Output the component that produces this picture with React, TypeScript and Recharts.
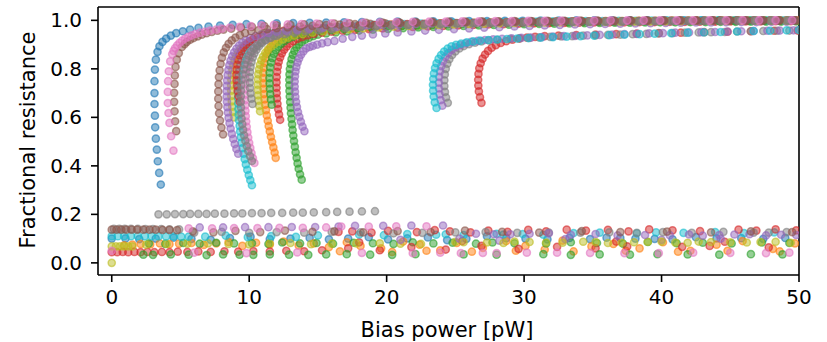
import React from 'react';
import {ScatterChart, Scatter, XAxis, YAxis, ReferenceLine, Label} from 'recharts';

// tick values
const xTicks = [0, 10, 20, 30, 40, 50];
const yTicks = [0, 0.2, 0.4, 0.6, 0.8, 1.0];

// tab10
const BLUE = '#1f77b4', ORANGE = '#ff7f0e', GREEN = '#2ca02c', RED = '#d62728', PURPLE = '#9467bd';
const BROWN = '#8c564b', PINK = '#e377c2', GRAY = '#7f7f7f', OLIVE = '#bcbd22', CYAN = '#17becf';

// ---- transition (upper) branches, [bias power, fractional R] ----
const blueUpper = [[3.57,.323],[3.45,.371],[3.35,.419],[3.28,.467],[3.21,.512],[3.16,.559],[3.14,.607],[3.11,.655],[3.11,.7],[3.11,.749],[3.14,.797],[3.21,.838],[3.33,.87],[3.47,.893],[3.69,.911],[3.96,.925],[4.3,.937],[4.69,.947],[5.17,.955],[5.7,.962],[6.31,.969],[7.04,.974],[7.88,.978],
  [8.8,.981],[9.8,.984],[10.9,.986],[12,.988],[13.2,.989],[14.4,.99],[15.6,.991],[16.9,.992],[18.2,.993],[19.5,.994],[20.8,.995],[22.1,.995],[23.4,.996],[24.7,.996],[26,.997],[27.3,.997],[28.6,.998],[29.9,.998],[31.2,.999],[32.5,.999],[33.8,1],[35.1,1],[36.4,1],[37.7,1],[39,1],[40.3,1],[41.6,1],[42.9,1],[44.2,1],[45.5,1],[46.8,1],[48.1,1],[49.4,1]];
const orangeUpper = [[11.93,.433],[11.85,.455],[11.76,.476],[11.67,.498],[11.58,.52],[11.5,.542],[11.42,.564],[11.35,.586],[11.28,.608],[11.22,.63],[11.16,.652],[11.11,.674],[11.07,.696],[11.04,.718],[11.02,.74],[11.01,.762],[11.02,.784],[11.05,.805],[11.1,.825],[11.18,.844],[11.28,.861],[11.4,.876],[11.55,.89],[11.72,.903],[11.92,.914],[12.15,.924],[12.42,.932],[12.72,.94],[13.1,.946],
  [13.7,.951],[14.5,.956],[15.4,.96],[16.4,.964],[17.5,.968],[18.7,.971],[19.9,.974],[21.1,.977],[22.3,.979],[23.5,.981],[24.7,.983],[25.9,.985],[27.1,.986],[28.3,.988],[29.5,.989],[30.7,.99],[31.9,.991],[33.1,.992],[34.3,.993],[35.5,.994],[36.7,.994],[37.9,.995],[39.1,.996],[40.3,.996],[41.5,.997],[42.7,.997],[43.9,.998],[45.1,.998],[46.3,.998],[47.5,.999],[48.7,.999],[49.9,.999]];
const greenUpper = [[13.82,.343],[13.7,.365],[13.6,.388],[13.52,.41],[13.45,.433],[13.38,.456],[13.32,.479],[13.26,.502],[13.21,.525],[13.16,.548],[13.12,.571],[13.08,.594],[13.04,.617],[13.01,.64],[12.98,.663],[12.95,.686],[12.93,.709],[12.92,.732],[12.92,.755],[12.93,.777],[12.96,.799],[13.01,.82],[13.08,.84],[13.17,.858],[13.29,.874],[13.44,.888],[13.62,.9],[13.83,.911],[14.07,.92],[14.35,.928],[14.66,.935],[15,.941],
  [15.6,.946],[16.3,.95],[17.1,.954],[18,.958],[19,.962],[20.1,.965],[21.2,.968],[22.3,.971],[23.4,.973],[24.5,.975],[25.6,.977],[26.7,.979],[27.8,.981],[28.9,.982],[30,.984],[31.1,.985],[32.2,.986],[33.3,.987],[34.4,.988],[35.5,.989],[36.6,.99],[37.7,.99],[38.8,.991],[39.9,.992],[41,.992],[42.1,.993],[43.2,.993],[44.3,.994],[45.4,.994],[46.5,.995],[47.6,.995],[48.7,.995],[49.8,.996]];
const redUpper = [[12.25,.59],[12.17,.612],[12.11,.634],[12.06,.656],[12.02,.678],[12,.7],[11.99,.722],[11.99,.744],[12,.766],[12.03,.788],[12.08,.809],[12.15,.829],[12.25,.847],[12.38,.864],[12.54,.879],[12.73,.892],[12.95,.904],[13.2,.914],[13.5,.923],[13.85,.931],[14.25,.938],[14.7,.944],
  [15.3,.949],[16,.953],[16.8,.957],[17.7,.961],[18.7,.964],[19.7,.967],[20.8,.97],[21.9,.973],[23,.975],[24.1,.977],[25.2,.979],[26.3,.981],[27.4,.983],[28.5,.984],[29.6,.986],[30.7,.987],[31.8,.988],[32.9,.989],[34,.99],[35.1,.991],[36.2,.991],[37.3,.992],[38.4,.993],[39.5,.993],[40.6,.994],[41.7,.994],[42.8,.995],[43.9,.995],[45,.996],[46.1,.996],[47.2,.996],[48.3,.997],[49.4,.997]];
const oliveUpper = [[8.9,.6],[8.83,.622],[8.77,.644],[8.73,.666],[8.7,.688],[8.69,.71],[8.69,.732],[8.7,.754],[8.73,.776],[8.77,.797],[8.84,.817],[8.93,.836],[9.05,.853],[9.2,.869],[9.38,.883],[9.6,.896],[9.85,.907],[10.15,.917],[10.5,.926],[10.9,.934],[11.4,.942],
  [12,.948],[12.8,.954],[13.7,.959],[14.7,.964],[15.8,.968],[16.9,.972],[18,.975],[19.2,.978],[20.4,.981],[21.6,.983],[22.8,.985],[24,.987],[25.2,.988],[26.4,.99],[27.6,.991],[28.8,.992],[30,.993],[31.2,.994],[32.4,.995],[33.6,.996],[34.8,.996],[36,.997],[37.2,.997],[38.4,.998],[39.6,.998],[40.8,.999],[42,.999],[43.2,.999],[44.4,1],[45.6,1],[46.8,1],[48,1],[49.2,1]];
const cyanUpper = [[10.2,.32],[10.08,.341],[9.97,.362],[9.86,.384],[9.76,.406],[9.67,.428],[9.59,.45],[9.52,.473],[9.45,.496],[9.39,.519],[9.34,.542],[9.3,.565],[9.26,.588],[9.23,.611],[9.21,.634],[9.2,.657],[9.19,.68],[9.19,.703],[9.2,.726],[9.22,.749],[9.25,.771],[9.3,.793],[9.37,.814],[9.46,.834],[9.58,.852],[9.73,.869],[9.91,.884],[10.12,.898],[10.37,.91],[10.65,.921],[10.97,.931],[11.35,.94],[11.8,.948],
  [12.4,.954],[13.1,.959],[13.9,.964],[14.8,.968],[15.8,.972],[16.8,.975],[17.9,.978],[19,.981],[20.1,.983],[21.3,.985],[22.5,.987],[23.7,.988],[24.9,.99],[26.1,.991],[27.3,.992],[28.5,.993],[29.7,.994],[30.9,.995],[32.1,.996],[33.3,.996],[34.5,.997],[35.7,.997],[36.9,.998],[38.1,.998],[39.3,.999],[40.5,.999],[41.7,.999],[42.9,1],[44.1,1],[45.3,1],[46.5,1],[47.7,1],[48.9,1]];
const green2Upper = [[11.64,.652],[11.58,.674],[11.53,.696],[11.5,.718],[11.48,.74],[11.47,.762],[11.48,.784],[11.52,.806],[11.58,.826],[11.67,.845],[11.79,.862],[11.94,.877],[12.12,.891],[12.33,.903],[12.57,.914],[12.85,.924],[13.17,.932],[13.53,.94],[13.95,.946],
  [14.5,.951],[15.2,.956],[16,.96],[16.9,.964],[17.9,.968],[18.9,.971],[20,.974],[21.1,.977],[22.2,.979],[23.3,.981],[24.4,.983],[25.5,.985],[26.6,.986],[27.7,.988],[28.8,.989],[29.9,.99],[31,.991],[32.1,.992],[33.2,.993],[34.3,.994],[35.4,.994],[36.5,.995],[37.6,.996],[38.7,.996],[39.8,.997],[40.9,.997],[42,.997],[43.1,.998],[44.2,.998],[45.3,.998],[46.4,.999],[47.5,.999],[48.6,.999],[49.7,.999]];
const red2Upper = [[9.3,.665],[9.22,.687],[9.16,.709],[9.11,.731],[9.08,.753],[9.07,.775],[9.08,.797],[9.12,.818],[9.19,.838],[9.29,.856],[9.42,.872],[9.58,.887],[9.78,.9],[10.01,.912],[10.28,.922],[10.6,.931],[10.97,.939],[11.4,.946],[11.9,.952],
  [12.5,.957],[13.2,.961],[14,.965],[14.9,.969],[15.9,.972],[16.9,.975],[18,.978],[19.1,.98],[20.3,.982],[21.5,.984],[22.7,.986],[23.9,.988],[25.1,.989],[26.3,.99],[27.5,.991],[28.7,.992],[29.9,.993],[31.1,.994],[32.3,.995],[33.5,.996],[34.7,.996],[35.9,.997],[37.1,.997],[38.3,.998],[39.5,.998],[40.7,.999],[41.9,.999],[43.1,.999],[44.3,1],[45.5,1],[46.7,1],[47.9,1],[49.1,1]];
const purple2Upper = [[14.02,.543],[13.88,.562],[13.76,.582],[13.65,.602],[13.55,.622],[13.47,.643],[13.41,.664],[13.36,.685],[13.33,.706],[13.31,.727],[13.31,.748],[13.33,.769],[13.37,.789],[13.43,.808],[13.52,.826],[13.63,.843],[13.77,.858],[13.94,.872],[14.14,.884],[14.4,.89],[14.64,.895],[14.95,.9],[15.3,.905],[15.7,.91],[16.2,.915],
  [16.8,.924],[17.5,.932],[18.2,.937],[19,.942],[19.9,.946],[20.8,.95],[21.8,.954],[22.8,.958],[23.8,.961],[24.9,.964],[26,.967],[27.1,.97],[28.2,.972],[29.3,.975],[30.4,.977],[31.5,.979],[32.6,.981],[33.7,.983],[34.8,.984],[35.9,.985],[37,.986],[38.1,.987],[39.2,.988],[40.3,.989],[41.4,.99],[42.5,.991],[43.6,.991],[44.7,.992],[45.8,.993],[46.9,.993],[48,.994],[49.1,.994]];
const olive2Upper = [[10.79,.625],[10.73,.647],[10.68,.669],[10.65,.691],[10.63,.713],[10.62,.735],[10.63,.757],[10.66,.778],[10.71,.798],[10.78,.817],[10.88,.835],[11.01,.851],[11.17,.866],[11.36,.879],[11.58,.891],[11.83,.902],[12.12,.912],[12.45,.921],[12.83,.929],[13.3,.937],
  [13.9,.943],[14.6,.949],[15.4,.954],[16.3,.959],[17.3,.963],[18.3,.967],[19.4,.971],[20.5,.974],[21.6,.977],[22.7,.979],[23.8,.981],[24.9,.983],[26,.985],[27.1,.986],[28.2,.988],[29.3,.989],[30.4,.99],[31.5,.991],[32.6,.992],[33.7,.993],[34.8,.994],[35.9,.995],[37,.995],[38.1,.996],[39.2,.996],[40.3,.997],[41.4,.997],[42.5,.998],[43.6,.998],[44.7,.998],[45.8,.999],[46.9,.999],[48,.999],[49.1,.999]];
const pink2Upper = [[10.38,.412],[10.27,.432],[10.17,.453],[10.08,.474],[10,.495],[9.93,.517],[9.87,.539],[9.82,.561],[9.78,.583],[9.75,.605],[9.73,.627],[9.71,.649],[9.7,.671],[9.7,.693],[9.7,.715],[9.71,.737],[9.73,.759],[9.76,.78],[9.81,.8],[9.88,.819],[9.97,.837],[10.08,.854],[10.22,.87],[10.39,.884],[10.59,.897],[10.82,.909],[11.09,.92],[11.4,.93],[11.75,.939],[12.2,.947],
  [12.8,.953],[13.5,.958],[14.3,.963],[15.2,.967],[16.2,.971],[17.2,.974],[18.3,.977],[19.4,.98],[20.6,.982],[21.8,.984],[23,.986],[24.2,.988],[25.4,.989],[26.6,.99],[27.8,.991],[29,.992],[30.2,.993],[31.4,.994],[32.6,.995],[33.8,.995],[35,.996],[36.2,.996],[37.4,.997],[38.6,.997],[39.8,.998],[41,.998],[42.2,.999],[43.4,.999],[44.6,.999],[45.8,1],[47,1],[48.2,1],[49.4,1]];
const grayUpper = [[10.2,.42],[10.06,.44],[9.93,.461],[9.82,.482],[9.72,.504],[9.63,.526],[9.56,.549],[9.5,.572],[9.45,.595],[9.42,.618],[9.4,.641],[9.39,.664],[9.39,.687],[9.4,.71],[9.42,.733],[9.46,.755],[9.51,.777],[9.58,.798],[9.67,.818],[9.79,.837],[9.94,.854],[10.12,.87],[10.33,.884],[10.58,.897],[10.87,.909],[11.2,.919],[11.58,.928],[12,.936],
  [12.6,.943],[13.3,.949],[14.1,.955],[15,.96],[16,.964],[17,.968],[18.1,.972],[19.2,.975],[20.3,.978],[21.5,.98],[22.7,.982],[23.9,.984],[25.1,.986],[26.3,.987],[27.5,.989],[28.7,.99],[29.9,.991],[31.1,.992],[32.3,.993],[33.5,.994],[34.7,.995],[35.9,.995],[37.1,.996],[38.3,.996],[39.5,.997],[40.7,.997],[41.9,.998],[43.1,.998],[44.3,.998],[45.5,.999],[46.7,.999],[47.9,.999],[49.1,.999]];
const gray2Upper = [[10.24,.655],[10.16,.677],[10.1,.699],[10.06,.721],[10.04,.743],[10.04,.765],[10.06,.787],[10.1,.808],[10.17,.828],[10.26,.847],[10.38,.864],[10.53,.879],[10.71,.893],[10.92,.906],[11.17,.917],[11.46,.927],[11.8,.936],[12.2,.944],
  [12.8,.95],[13.5,.955],[14.3,.96],[15.2,.964],[16.1,.968],[17.1,.972],[18.2,.975],[19.3,.978],[20.4,.98],[21.6,.982],[22.8,.984],[24,.986],[25.2,.988],[26.4,.989],[27.6,.99],[28.8,.991],[30,.992],[31.2,.993],[32.4,.994],[33.6,.995],[34.8,.995],[36,.996],[37.2,.996],[38.4,.997],[39.6,.997],[40.8,.998],[42,.998],[43.2,.999],[44.4,.999],[45.6,.999],[46.8,1],[48,1],[49.2,1]];
const purpleUpper = [[9.2,.45],[9.07,.47],[8.95,.49],[8.84,.511],[8.74,.532],[8.65,.554],[8.57,.576],[8.5,.598],[8.45,.62],[8.41,.642],[8.38,.664],[8.36,.686],[8.36,.708],[8.37,.73],[8.39,.752],[8.43,.774],[8.48,.795],[8.55,.815],[8.64,.834],[8.76,.852],[8.9,.868],[9.07,.883],[9.27,.896],[9.5,.908],[9.77,.918],[10.08,.927],[10.45,.935],[10.9,.942],
  [11.4,.948],[12,.953],[12.7,.958],[13.5,.962],[14.4,.966],[15.4,.97],[16.4,.973],[17.5,.976],[18.6,.979],[19.7,.981],[20.9,.983],[22.1,.985],[23.3,.987],[24.5,.988],[25.7,.99],[26.9,.991],[28.1,.992],[29.3,.993],[30.5,.994],[31.7,.995],[32.9,.996],[34.1,.996],[35.3,.997],[36.5,.997],[37.7,.998],[38.9,.998],[40.1,.999],[41.3,.999],[42.5,.999],[43.7,1],[44.9,1],[46.1,1],[47.3,1],[48.5,1],[49.7,1]];
const brown2Upper = [[8.1,.53],[7.98,.558],[7.88,.587],[7.81,.617],[7.77,.647],[7.75,.677],[7.75,.707],[7.77,.737],[7.8,.766],[7.85,.794],[7.92,.821],[8.02,.846],[8.15,.868],[8.31,.887],[8.5,.903],[8.73,.917],[9,.929],[9.32,.939],[9.7,.948],[10.15,.955],
  [10.7,.96],[11.3,.964],[12,.968],[12.8,.971],[13.7,.974],[14.6,.977],[15.6,.98],[16.6,.982],[17.7,.984],[18.8,.986],[19.9,.988],[21,.989],[22.2,.99],[23.4,.991],[24.6,.992],[25.8,.993],[27,.994],[28.2,.995],[29.4,.995],[30.6,.996],[31.8,.996],[33,.997],[34.2,.997],[35.4,.998],[36.6,.998],[37.8,.999],[39,.999],[40.2,.999],[41.4,1],[42.6,1],[43.8,1],[45,1],[46.2,1],[47.4,1],[48.6,1],[49.8,1]];
const brownUpper = [[4.69,.543],[4.61,.584],[4.57,.625],[4.54,.664],[4.54,.701],[4.57,.738],[4.59,.773],[4.64,.808],[4.73,.838],[4.88,.865],[5.1,.89],[5.3,.902],[5.46,.911],[5.7,.92],[5.95,.927],[6.25,.934],[6.55,.941],[6.9,.947],[7.28,.952],[7.7,.957],[8.13,.962],
  [8.7,.966],[9.4,.97],[10.2,.973],[11.1,.976],[12,.979],[13,.981],[14,.983],[15.1,.985],[16.2,.987],[17.3,.988],[18.5,.99],[19.7,.991],[20.9,.992],[22.1,.993],[23.3,.994],[24.5,.995],[25.7,.995],[26.9,.996],[28.1,.996],[29.3,.997],[30.5,.997],[31.7,.998],[32.9,.998],[34.1,.999],[35.3,.999],[36.5,.999],[37.7,1],[38.9,1],[40.1,1],[41.3,1],[42.5,1],[43.7,1],[44.9,1],[46.1,1],[47.3,1],[48.5,1],[49.7,1]];
const pinkUpper = [[4.49,.463],[4.32,.522],[4.2,.577],[4.13,.618],[4.08,.659],[4.08,.705],[4.1,.749],[4.15,.79],[4.25,.831],[4.4,.861],[4.5,.874],[4.61,.886],[4.76,.897],[4.93,.907],[5.12,.916],[5.34,.925],[5.57,.932],[5.82,.938],[6.1,.944],[6.43,.949],[6.8,.954],[7.16,.958],[7.6,.962],[8,.966],
  [8.6,.97],[9.3,.973],[10.1,.976],[10.9,.979],[11.8,.981],[12.8,.983],[13.8,.985],[14.9,.987],[16,.988],[17.1,.99],[18.3,.991],[19.5,.992],[20.7,.993],[21.9,.994],[23.1,.995],[24.3,.995],[25.5,.996],[26.7,.996],[27.9,.997],[29.1,.997],[30.3,.998],[31.5,.998],[32.7,.999],[33.9,.999],[35.1,.999],[36.3,1],[37.5,1],[38.7,1],[39.9,1],[41.1,1],[42.3,1],[43.5,1],[44.7,1],[45.9,1],[47.1,1],[48.3,1],[49.5,1]];
const cyan2Upper = [[23.63,.639],[23.5,.662],[23.42,.686],[23.38,.71],[23.37,.734],[23.39,.758],[23.44,.781],[23.52,.803],[23.63,.823],[23.78,.841],[23.96,.857],[24.18,.871],[24.43,.883],[24.72,.893],[25.05,.899],[25.42,.904],[25.83,.909],[26.3,.913],[26.8,.916],[27.4,.919],[28.05,.921],[28.75,.923],[29.5,.925],[30.3,.927],[31.2,.929],[32.1,.931],[33.1,.933],[34.1,.935],[35.1,.937],[36.2,.939],[37.3,.941],[38.4,.943],[39.5,.945],[40.7,.947],[41.9,.949],[43.1,.95],[44.3,.952],[45.5,.954],[46.7,.956],[47.9,.957],[49.1,.959],[50,.96]];
const purple3Upper = [[24.05,.648],[23.93,.671],[23.85,.695],[23.81,.719],[23.8,.743],[23.82,.767],[23.88,.79],[23.97,.811],[24.1,.831],[24.27,.849],[24.48,.865],[24.73,.878],[25.02,.889],[25.35,.898],[25.73,.905],[26.15,.911],[26.62,.915],[27.15,.919],[27.75,.922],[28.4,.924],[29.1,.926],[29.8,.928],[30.5,.929],[31.3,.931],[32.1,.933],[32.9,.935],[33.7,.936],[34.6,.938],[35.5,.94],[36.4,.941],[37.3,.943],[38.2,.944],[39.1,.946],[40.1,.947],[41,.949],[42,.95],[42.9,.951],[43.9,.952],[44.8,.954],[45.8,.955],[46.7,.956],[47.7,.957],[48.6,.958],[49.6,.959]];
const gray3Upper = [[24.45,.66],[24.32,.682],[24.24,.705],[24.2,.729],[24.2,.753],[24.23,.777],[24.3,.8],[24.41,.821],[24.56,.84],[24.76,.857],[25,.872],[25.29,.884],[25.62,.894],[26,.902],[26.43,.908],[26.9,.913],[27.45,.917],[28.05,.92],[29,.924],[29.7,.926],[30.4,.928],[31.1,.93],[31.9,.932],[32.7,.934],[33.5,.935],[34.3,.937],[35.2,.938],[36.1,.94],[37,.941],[37.9,.943],[38.9,.944],[39.8,.946],[40.8,.947],[41.7,.949],[42.7,.95],[43.6,.951],[44.6,.952],[45.5,.954],[46.5,.955],[47.4,.956],[48.4,.957],[49.3,.958]];
const red3Upper = [[26.9,.66],[26.79,.683],[26.71,.707],[26.67,.731],[26.66,.755],[26.68,.779],[26.74,.802],[26.84,.823],[26.98,.842],[27.16,.859],[27.38,.874],[27.64,.887],[27.95,.898],[28.3,.907],[28.7,.914],[29.15,.92],[29.65,.925],[30.2,.929],[30.8,.932],[31.5,.935],[32.5,.937],[33.8,.939],[35.2,.941],[36.7,.943],[38.2,.945],[39.8,.947],[41.4,.949],[43.1,.951],[44.8,.953],[46.5,.955],[48.2,.957],[49.9,.958]];

// ---- superconducting (lower) points ----
const blueLower = [[0,.1],[1,.101],[2,.098],[3.2,.1],[4.5,.104],[5.8,.099],[7.2,.095],[8.6,.102],[10.1,.108],[11.5,.098],[13,.1],[14.4,.103],[15.8,.097],[17.2,.1],[18.7,.106],[20.1,.097],[21.5,.101],[23,.105],[24.4,.094],[25.8,.099],[27.3,.11],[28.7,.102],[30.1,.1],[31.7,.097],[33.3,.103],[34.8,.098],[36,.104],[37,.103],[38.1,.1],[39.5,.099],[40.8,.097],[42.5,.106],[44,.101],[45.8,.102],[47.4,.099],[49,.103]];
const orangeLower = [[0.9,.072],[1.5,.075],[2.1,.078],[2.8,.076],[3.5,.08],[4.2,.077],[4.9,.079],[5.8,.082],[6.7,.074],[7.6,.08],[8.5,.086],[9.5,.07],[10.5,.083],[11.5,.076],[12.5,.088],[13.6,.072],[14.7,.08],[15.8,.065],[16.6,.048],[17.1,.085],[18.1,.07],[19.6,.06],[20.4,.045],[21.2,.088],[22.4,.075],[22.9,.05],[23.9,.052],[25.1,.082],[26.2,.046],[27,.062],[28.7,.09],[29.4,.05],[30.1,.07],[31.5,.055],[32.8,.092],[33.6,.047],[34.9,.068],[36.5,.078],[37.4,.05],[38.4,.06],[40.1,.085],[41.2,.046],[42.1,.05],[44,.075],[44.8,.05],[45.9,.09],[48.1,.058],[48.6,.047],[49.7,.08]];
const greenLower = [[2.7,.08],[3.9,.078],[5.2,.082],[6.4,.079],[7.6,.083],[8.9,.08],[10.2,.081],[11.4,.078],[12.4,.084],[13.7,.08],[14.9,.082],[16.1,.079],[17.6,.083],[19,.081],[20.5,.078],[21.9,.085],[23.4,.08],[24.8,.083],[26.5,.079],[27.7,.084],[29.3,.081],[31.6,.08],[33.4,.085],[35.3,.082],[37.2,.079],[39,.086],[41.1,.081],[43,.083],[45.1,.08],[47.3,.084],[49.3,.082]];
const green2Lower = [[2.3,.034],[3,.033],[4.3,.035],[5.6,.034],[6.9,.032],[8.1,.035],[9.3,.034],[10.3,.033],[11.5,.035],[12.9,.034],[14.3,.033],[15.6,.035],[17.1,.036],[18.8,.034],[20.4,.033],[22.1,.036],[25.6,.035],[28,.034],[31.4,.036],[33.4,.033],[35.5,.035],[37.7,.034],[39.7,.036],[41.9,.035],[44.2,.034],[46.5,.036],[48.8,.035]];
const redLower = [[0,.044],[0.4,.044],[0.8,.045],[1.2,.044],[1.65,.045],[2.1,.044],[2.6,.045],[3.1,.044],[3.65,.045],[4.2,.044],[4.8,.046],[5.5,.045],[6.3,.047],[7.2,.045],[8.2,.048],[9.2,.046],[10.3,.049],[11.5,.047],[12.7,.05],[14,.048],[15.3,.052],[17.2,.06],[18,.085],[19.5,.052],[21.8,.065],[24.3,.055],[25.5,.09],[26.9,.07],[29.6,.058],[32.4,.066],[35.2,.06],[36.7,.088],[37.5,.068],[41.5,.066],[43.5,.07],[44.6,.087],[47.8,.064]];
const red2Lower = [[16.5,.128],[17.5,.13],[18.9,.125],[20.1,.132],[22.2,.127],[23.5,.135],[24.6,.13],[26.1,.126],[27.4,.133],[28.8,.128],[30.3,.136],[31.6,.13],[33.1,.137],[34.5,.133],[36.1,.136],[37.6,.13],[39.1,.138],[40.8,.134],[42.8,.131],[45.6,.137],[46.9,.133],[48.3,.138],[49.8,.134]];
const purpleLower = [[6.4,.146],[8.1,.146],[9.7,.147],[11.4,.147],[13.1,.148],[14.8,.148],[16.5,.15],[17.7,.153],[19.75,.153],[21.8,.154],[24.1,.154],[26.5,.12],[27.8,.118],[29,.118],[30.4,.12],[31.8,.122],[33.4,.116],[35.2,.119],[36.8,.113],[38.8,.115],[40.6,.114],[42,.117],[43,.112],[44.2,.115],[45.3,.117],[46.4,.118],[47.6,.113],[48.7,.116],[49.8,.115]];
const purple2Lower = [[21,.095],[25.3,.1],[28.2,.092],[33,.098],[40,.095],[44.3,.1]];
const brownLower = [[0,.137],[0.35,.137],[0.7,.137],[1.05,.137],[1.45,.137],[1.85,.137],[2.3,.137],[2.75,.137],[3.2,.137],[3.7,.136],[4.2,.136],[4.75,.135],[5.9,.13],[7.4,.126],[9,.132],[10.8,.127],[12.6,.133],[14.6,.128],[16.2,.13],[18.3,.126],[20.8,.131],[23.2,.127],[25.7,.133],[28.4,.128],[31.1,.125],[34.2,.131],[37,.127],[40.4,.129],[43.6,.126],[46.5,.13],[49.5,.127]];
const pinkLower = [[0,.05],[5.6,.142],[7.3,.142],[8.9,.143],[10.6,.143],[12.2,.144],[13.9,.144],[15.6,.146],[16.7,.15],[18.7,.15],[20.7,.151],[22.9,.151]];
const pink2Lower = [[6,.042],[9.8,.04],[13.5,.043],[18.2,.041],[21.9,.04],[23.9,.042],[25.4,.04],[27,.041],[28,.04],[30.2,.042],[32.4,.042],[34.8,.041],[37.3,.04],[39.8,.04],[42.3,.042],[45,.041],[47.6,.04],[49.3,.042]];
const grayLower = [[0.15,.14],[0.55,.14],[0.95,.14],[1.4,.14],[1.9,.14],[2.45,.139],[3,.139],[3.6,.139],[4.2,.138],[4.9,.138],[6,.125],[8,.128],[10,.124],[12,.127],[14,.125],[16,.128],[18.1,.126],[20.5,.122],[22.6,.124],[25,.126],[27.2,.127],[29.5,.124],[31.8,.125],[34.1,.125],[36.2,.126],[38.2,.124],[40.1,.127],[42.2,.124],[44.5,.128],[46.7,.125],[47.8,.125],[49.1,.127]];
const grayRow = [[3.4,.2],[4,.2],[4.6,.201],[5.2,.201],[5.7,.202],[6.3,.202],[6.9,.202],[7.5,.203],[8.2,.203],[8.9,.204],[9.5,.204],[10.2,.205],[10.9,.205],[11.6,.206],[12.4,.206],[13.2,.207],[13.9,.207],[14.7,.208],[15.6,.209],[16.4,.21],[17.3,.211],[18.2,.212],[19.15,.213]];
const cyanLower = [[0,.11],[0.45,.11],[0.9,.11],[1.4,.11],[1.9,.11],[2.4,.11],[2.9,.11],[3.4,.109],[3.95,.109],[4.5,.109],[5.05,.108],[5.6,.108],[6.8,.108],[8.3,.112],[9.9,.106],[11.6,.11],[13.4,.107],[15,.113],[18,.117],[19.8,.114],[21.5,.119],[23.6,.116],[24.3,.118],[25.6,.115],[28,.12],[28.5,.117],[29.9,.119],[31.4,.116],[33.6,.123],[35.5,.125],[38.2,.122],[39.6,.126],[41.6,.124],[43.9,.127],[46,.123],[48.2,.126]];
const oliveLower = [[0,.068],[0.3,.068],[0.6,.068],[0.9,.068],[1.2,.068],[1.5,.068],[2.5,.075],[4,.078],[5.5,.079],[7,.08],[8.5,.078],[10,.076],[11.5,.08],[13,.082],[14.5,.077],[16,.079],[17.8,.08],[19.5,.081],[21,.079],[22.5,.078],[25,.087],[27.3,.084],[29.3,.088],[31.6,.084],[35.2,.086],[37.1,.083],[39,.087],[41,.084],[42.7,.088],[45,.085],[47.2,.086],[49.4,.083]];
const olive2Lower = [[0,.0],[25.6,.085],[28.5,.082],[30.4,.086],[32.8,.083],[34.3,.087],[36.1,.082],[38,.085],[40,.088],[41.9,.083],[43.6,.086],[46.2,.084],[48.3,.087]];

// drawing order (later on top)
const series = [
  {color: BLUE, pts: [...blueUpper, ...blueLower]},
  {color: ORANGE, pts: [...orangeUpper, ...orangeLower]},
  {color: GREEN, pts: [...greenUpper, ...greenLower]},
  {color: RED, pts: [...redUpper, ...redLower]},
  {color: OLIVE, pts: [...oliveUpper, ...oliveLower]},
  {color: CYAN, pts: [...cyanUpper, ...cyanLower]},
  {color: GREEN, pts: [...green2Upper, ...green2Lower]},
  {color: RED, pts: [...red2Upper, ...red2Lower]},
  {color: PURPLE, pts: [...purple2Upper, ...purple2Lower]},
  {color: OLIVE, pts: [...olive2Upper, ...olive2Lower]},
  {color: PINK, pts: [...pink2Upper, ...pink2Lower]},
  {color: GRAY, pts: [...grayUpper, ...grayLower]},
  {color: GRAY, pts: gray2Upper},
  {color: PURPLE, pts: [...purpleUpper, ...purpleLower]},
  {color: BROWN, pts: brown2Upper},
  {color: BROWN, pts: [...brownUpper, ...brownLower]},
  {color: PINK, pts: [...pinkUpper, ...pinkLower]},
  {color: GRAY, pts: grayRow},
  {color: RED, pts: red3Upper},
  {color: GRAY, pts: gray3Upper},
  {color: PURPLE, pts: purple3Upper},
  {color: CYAN, pts: cyan2Upper},
];

const FONT = 'DejaVu Sans';

const dot = (color: string) => (props: any) => (
  <circle cx={props.cx} cy={props.cy} r={3.6} fill={color} fillOpacity={0.5}
          stroke={color} strokeOpacity={0.6} strokeWidth={1.5}/>
);

export default function App() {
  return (
    <div style={{position: 'absolute', left: 0, top: 0, background: '#fff'}}>
      <ScatterChart width={827} height={342} margin={{top: 7, right: 28, bottom: 0, left: 0}}
                    style={{fontFamily: FONT}}>
        <XAxis type="number" dataKey="x" domain={[-1, 50]} ticks={xTicks} interval={0}
               allowDataOverflow height={67} tickSize={7} tickMargin={8}
               tick={{fontSize: 20, fill: '#000', fontFamily: FONT}}
               axisLine={{stroke: '#000', strokeWidth: 1.6}} tickLine={{stroke: '#000', strokeWidth: 1.6}}>
          <Label content={() => (
            <text x={447} y={337} textAnchor="middle" fontSize={21} fontFamily={FONT} fill="#000">Bias power [pW]</text>
          )}/>
        </XAxis>
        <YAxis type="number" dataKey="y" domain={[-0.05, 1.055]} ticks={yTicks} interval={0}
               allowDataOverflow width={98} tickSize={7} tickMargin={9}
               tickFormatter={(v: number) => v.toFixed(1)}
               tick={{fontSize: 20, fill: '#000', fontFamily: FONT}}
               axisLine={{stroke: '#000', strokeWidth: 1.6}} tickLine={{stroke: '#000', strokeWidth: 1.6}}>
          <Label content={() => (
            <text x={0} y={0} transform="translate(35,140) rotate(-90)" textAnchor="middle"
                  fontSize={21} fontFamily={FONT} fill="#000">Fractional resistance</text>
          )}/>
        </YAxis>
        {series.map((s, i) => (
          <Scatter key={i} data={s.pts.map(([x, y]) => ({x, y}))} fill={s.color}
                   shape={dot(s.color)} isAnimationActive={false}/>
        ))}
        <ReferenceLine x={50} stroke="#000" strokeWidth={1.6}/>
        <ReferenceLine y={1.055} stroke="#000" strokeWidth={1.6}/>
      </ScatterChart>
    </div>
  );
}
